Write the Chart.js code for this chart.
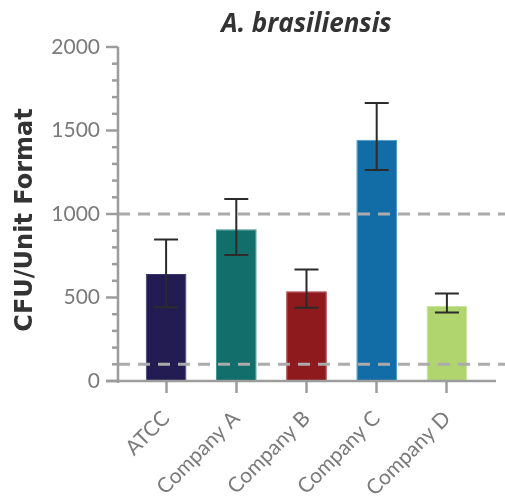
<!DOCTYPE html>
<html>
<head>
<meta charset="utf-8">
<script src="https://cdn.jsdelivr.net/npm/chart.js@4.4.0/dist/chart.umd.min.js"></script>
<style>
    html, body { margin: 0; padding: 0; background: #fff; }
    canvas { display: block; }
</style>
</head>
<body>
<canvas id="chart" width="505" height="502"></canvas>
<script>
// Datos
const categories = ['ATCC', 'Company A', 'Company B', 'Company C', 'Company D'];
const cfuValues = [640, 908, 537, 1445, 450];
const errorHigh = [847, 1090, 667, 1665, 524];
const errorLow = [442, 754, 438, 1263, 410];
const referenceLines = [1000, 100];
const yMax = 2000;
const yMajorStep = 500;
const yMinorStep = 100;

const barColors = ['#221c52', '#116e6a', '#8e1a1e', '#126ca6', '#b0d46e'];
const barEdges = ['#3a3470', '#3d918c', '#a8383c', '#4a98cc', '#c8e496'];

const axisColor = '#9c9c9c';

// Ejes, líneas punteadas, barras de error y títulos
const extras = {
    id: 'extras',
    afterDatasetsDraw(chart) {
        const { ctx, chartArea: area, scales: { x, y } } = chart;
        const axisX = area.left - 13;
        const axisEnd = area.right + 14;
        ctx.save();

        // líneas de referencia punteadas
        ctx.strokeStyle = '#ababab';
        ctx.lineWidth = 3;
        ctx.setLineDash([12, 8]);
        referenceLines.forEach(v => {
            const py = y.getPixelForValue(v);
            ctx.beginPath();
            ctx.moveTo(axisX, py);
            ctx.lineTo(chart.width, py);
            ctx.stroke();
        });
        ctx.setLineDash([]);

        // barras de error
        const meta = chart.getDatasetMeta(0);
        ctx.strokeStyle = '#2b2b2b';
        ctx.lineWidth = 2;
        meta.data.forEach((bar, i) => {
            const top = y.getPixelForValue(errorHigh[i]);
            const bot = y.getPixelForValue(errorLow[i]);
            ctx.beginPath();
            ctx.moveTo(bar.x, top); ctx.lineTo(bar.x, bot);
            ctx.moveTo(bar.x - 12, top); ctx.lineTo(bar.x + 12, top);
            ctx.moveTo(bar.x - 12, bot); ctx.lineTo(bar.x + 12, bot);
            ctx.stroke();
        });

        // ejes
        ctx.strokeStyle = axisColor;
        ctx.lineWidth = 2.5;
        ctx.beginPath();
        ctx.moveTo(axisX, y.getPixelForValue(yMax));
        ctx.lineTo(axisX, area.bottom + 2);
        ctx.moveTo(axisX - 12, area.bottom);
        ctx.lineTo(axisEnd, area.bottom);
        ctx.stroke();

        // marcas del eje y
        for (let v = 0; v <= yMax; v += yMinorStep) {
            const py = y.getPixelForValue(v);
            const len = v % yMajorStep === 0 ? 12 : 6;
            ctx.beginPath();
            ctx.moveTo(axisX - len, py);
            ctx.lineTo(axisX, py);
            ctx.stroke();
        }

        // título
        ctx.fillStyle = '#333';
        ctx.font = 'italic bold 26px "Open Sans"';
        ctx.textAlign = 'center';
        ctx.textBaseline = 'alphabetic';
        ctx.fillText('A. brasiliensis', (area.left + area.right) / 2, 32);

        // título del eje y
        ctx.font = 'bold 24px "DejaVu Sans"';
        ctx.textBaseline = 'middle';
        ctx.translate(26, 220);
        ctx.rotate(-Math.PI / 2);
        ctx.fillText('CFU/Unit Format', 0, 0);

        ctx.restore();
    }
};

const ctx = document.getElementById('chart').getContext('2d');
new Chart(ctx, {
    type: 'bar',
    data: {
        labels: categories,
        datasets: [{
            data: cfuValues,
            backgroundColor: barColors,
            borderColor: barEdges,
            borderWidth: 1,
            barPercentage: 0.58,
            categoryPercentage: 1.0
        }]
    },
    options: {
        responsive: false,
        animation: false,
        devicePixelRatio: 1,
        layout: { padding: { left: 0, top: 47, right: 23, bottom: 0 } },
        plugins: {
            legend: { display: false },
            tooltip: { enabled: false }
        },
        scales: {
            x: {
                afterFit: s => { s.height = 121; },
                grid: {
                    display: true,
                    drawOnChartArea: false,
                    offset: false,
                    tickLength: 12,
                    tickWidth: 2.5,
                    tickColor: axisColor
                },
                border: { display: false },
                ticks: {
                    minRotation: 45,
                    maxRotation: 45,
                    padding: 13,
                    color: '#7a7a7a',
                    font: { family: 'Lato', size: 21 }
                }
            },
            y: {
                min: 0,
                max: yMax,
                afterFit: s => { s.width = 131; },
                grid: { display: false },
                border: { display: false },
                ticks: {
                    stepSize: yMajorStep,
                    padding: 23,
                    color: '#7a7a7a',
                    font: { family: 'Lato', size: 21 },
                    callback: v => String(v)
                }
            }
        }
    },
    plugins: [extras]
});
</script>
</body>
</html>
